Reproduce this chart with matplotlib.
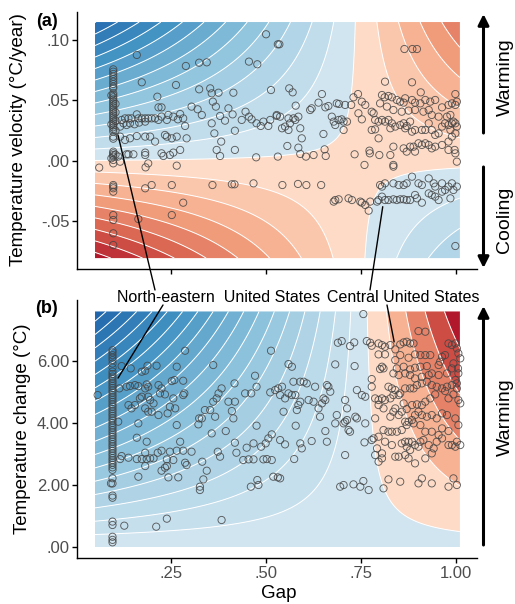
import numpy as np
import matplotlib.pyplot as plt
from matplotlib.colors import LinearSegmentedColormap
from matplotlib.patches import ConnectionPatch, FancyArrowPatch

plt.rcParams['font.family'] = ['Liberation Sans', 'DejaVu Sans']

W, H = 515, 604

# fitted surfaces: z = d * (gap - x0) * (y - y0) + c, one band per unit of z
# (d may differ on either side of x0)
vel_surface = dict(d_left=151.5, d_right=151.5, x0=0.745, y0=-0.0015, c=0.18)
chg_surface = dict(d_left=3.31, d_right=2.62, x0=0.752, y0=0.09, c=-0.275)
vel_extent = (0.05, 1.01, -0.0805, 0.1146)
chg_extent = (0.05, 1.01, 0.0, 7.6)

# panel (a) points: the north-eastern column at gap ~0.1, then the rest
ne_gap_a = 0.098
ne_rate = [0.0755, 0.0736, 0.0717, 0.0695, 0.0675, 0.0653, 0.0634, 0.0612, 0.0598,
           0.0557, 0.0540, 0.0524, 0.0507, 0.0491, 0.0474, 0.0458, 0.0441, 0.0425,
           0.0408, 0.0392, 0.0375, 0.0359, 0.0342, 0.0326, 0.0309, 0.0292, 0.0276,
           0.0259, 0.0240, 0.0199, 0.0182, 0.0075, 0.0061, 0.0047, 0.0034, 0.0006,
           -0.0022, -0.0201, -0.0214, -0.0228, -0.0256, -0.0449, -0.0490, -0.0600,
           -0.0697]
vel_points = [
    (0.104, 0.047), (0.104, 0.040), (0.104, 0.033), (0.104, 0.025), (0.104, 0.005),
    (0.093, 0.054), (0.093, 0.030), (0.093, 0.002),
    (0.160, 0.0874), (0.289, 0.0783), (0.324, 0.0810), (0.344, 0.0813), (0.455, 0.0819),
    (0.477, 0.0797), (0.500, 0.1045), (0.531, 0.0962), (0.173, 0.0648), (0.263, 0.0626),
    (0.214, 0.0529), (0.324, 0.0590), (0.353, 0.0598), (0.357, 0.0557), (0.375, 0.0562),
    (0.414, 0.0562), (0.513, 0.0584), (0.360, 0.0488), (0.368, 0.0447), (0.401, 0.0433),
    (0.412, 0.0383), (0.304, 0.0447), (0.320, 0.0425), (0.331, 0.0378), (0.379, 0.0370),
    (0.392, 0.0331), (0.446, 0.0405), (0.455, 0.0364), (0.436, 0.0337), (0.462, 0.0342),
    (0.475, 0.0309), (0.486, 0.0287), (0.493, 0.0323), (0.506, 0.0287), (0.511, 0.0337),
    (0.528, 0.0370), (0.357, 0.0309), (0.364, 0.0226), (0.418, 0.0248), (0.382, 0.0158),
    (0.370, 0.0089), (0.379, 0.0039), (0.418, 0.0089), (0.474, 0.0028), (0.531, 0.0034),
    (0.282, 0.0350), (0.287, 0.0287), (0.274, 0.0386), (0.268, 0.0342), (0.256, 0.0364),
    (0.243, 0.0378), (0.239, 0.0337), (0.225, 0.0364), (0.217, 0.0441), (0.225, 0.0441),
    (0.208, 0.0350), (0.199, 0.0350), (0.190, 0.0350), (0.182, 0.0350), (0.173, 0.0350),
    (0.164, 0.0350), (0.160, 0.0383), (0.146, 0.0350), (0.138, 0.0350), (0.129, 0.0350),
    (0.120, 0.0337), (0.116, 0.0282), (0.125, 0.0309), (0.133, 0.0295), (0.142, 0.0309),
    (0.154, 0.0301), (0.166, 0.0315), (0.182, 0.0323), (0.217, 0.0337), (0.265, 0.0199),
    (0.291, 0.0185), (0.252, 0.0185), (0.239, 0.0199), (0.234, 0.0213), (0.208, 0.0158),
    (0.195, 0.0199), (0.182, 0.0199), (0.160, 0.0204), (0.142, 0.0185), (0.129, 0.0171),
    (0.116, 0.0199), (0.274, 0.0089), (0.256, 0.0067), (0.247, 0.0047), (0.225, 0.0061),
    (0.230, 0.0039), (0.182, 0.0047), (0.182, 0.0067), (0.151, 0.0053), (0.138, 0.0053),
    (0.133, 0.0053), (0.111, 0.0034), (0.116, -0.0008), (0.190, -0.0022), (0.183, -0.0055),
    (0.265, -0.0041), (0.061, -0.0057), (0.182, -0.0228), (0.199, -0.0201), (0.252, -0.0201),
    (0.359, -0.0201), (0.410, -0.0195), (0.417, -0.0195), (0.467, -0.0187), (0.282, -0.0347),
    (0.252, -0.0449), (0.164, -0.0482),
    (0.535, 0.0962), (0.864, 0.0923), (0.885, 0.0923), (0.897, 0.0923), (0.813, 0.0653),
    (0.884, 0.0648), (0.907, 0.0565), (0.998, 0.0551), (0.561, 0.0598), (0.570, 0.0565),
    (0.647, 0.0551), (0.742, 0.0551), (0.730, 0.0524), (0.752, 0.0488), (0.761, 0.0461),
    (0.724, 0.0461), (0.708, 0.0461), (0.692, 0.0469), (0.686, 0.0474), (0.664, 0.0452),
    (0.656, 0.0441), (0.638, 0.0480), (0.620, 0.0433), (0.616, 0.0419), (0.578, 0.0455),
    (0.528, 0.0378), (0.537, 0.0364), (0.559, 0.0350), (0.572, 0.0350), (0.585, 0.0364),
    (0.577, 0.0337), (0.590, 0.0268), (0.542, 0.0268), (0.550, 0.0282), (0.559, 0.0254),
    (0.563, 0.0309), (0.594, 0.0185), (0.651, 0.0221), (0.673, 0.0364), (0.678, 0.0323),
    (0.682, 0.0295), (0.691, 0.0337), (0.699, 0.0342), (0.704, 0.0323), (0.704, 0.0254),
    (0.713, 0.0323), (0.743, 0.0392), (0.752, 0.0342), (0.778, 0.0405), (0.783, 0.0392),
    (0.787, 0.0337), (0.778, 0.0254), (0.787, 0.0259), (0.796, 0.0323), (0.805, 0.0337),
    (0.813, 0.0323), (0.822, 0.0337), (0.831, 0.0309), (0.827, 0.0268), (0.840, 0.0282),
    (0.853, 0.0295), (0.862, 0.0309), (0.866, 0.0268), (0.870, 0.0287), (0.879, 0.0323),
    (0.884, 0.0240), (0.892, 0.0254), (0.910, 0.0254), (0.919, 0.0254), (0.928, 0.0309),
    (0.936, 0.0254), (0.945, 0.0213), (0.954, 0.0226), (0.963, 0.0282), (0.971, 0.0309),
    (0.980, 0.0295), (0.989, 0.0309), (0.993, 0.0323), (0.998, 0.0309), (1.002, 0.0282),
    (0.985, 0.0254), (0.998, 0.0226), (0.989, 0.0199), (0.980, 0.0158), (0.996, 0.0089),
    (0.998, 0.0061), (1.002, -0.0008), (0.805, 0.0543), (0.812, 0.0524), (0.822, 0.0535),
    (0.831, 0.0524), (0.844, 0.0502), (0.853, 0.0488), (0.862, 0.0480), (0.866, 0.0516),
    (0.884, 0.0502), (0.892, 0.0480), (0.906, 0.0474), (0.919, 0.0502), (0.932, 0.0488),
    (0.945, 0.0502), (0.963, 0.0441), (0.980, 0.0461), (0.989, 0.0474), (0.998, 0.0461),
    (1.002, 0.0488), (0.800, 0.0474), (0.818, 0.0447), (0.835, 0.0419), (0.857, 0.0405),
    (0.875, 0.0414), (0.892, 0.0419), (0.914, 0.0405), (0.928, 0.0419), (0.936, 0.0378),
    (0.954, 0.0364), (0.976, 0.0364), (0.985, 0.0378), (0.796, 0.0185), (0.835, 0.0116),
    (0.862, 0.0102), (0.870, 0.0075), (0.879, 0.0116), (0.888, 0.0116), (0.892, 0.0075),
    (0.901, 0.0144), (0.910, 0.0130), (0.919, 0.0144), (0.928, 0.0130), (0.936, 0.0102),
    (0.945, 0.0116), (0.963, 0.0130), (0.980, 0.0089), (0.556, 0.0122), (0.585, 0.0108),
    (0.590, 0.0056), (0.605, 0.0034), (0.625, 0.0047), (0.657, 0.0039), (0.654, 0.0094),
    (0.733, 0.0053), (0.772, 0.0083), (0.773, 0.0061), (0.798, 0.0047), (0.827, 0.0047),
    (0.759, -0.0035), (0.835, -0.0035), (0.835, -0.0049), (0.543, -0.0201), (0.584, -0.0192),
    (0.606, -0.0201), (0.645, -0.0201), (0.800, -0.0201), (0.805, -0.0214), (0.813, -0.0187),
    (0.835, -0.0187), (0.849, -0.0201), (0.862, -0.0201), (0.870, -0.0187), (0.884, -0.0132),
    (0.901, -0.0187), (0.910, -0.0201), (0.928, -0.0146), (0.941, -0.0187), (0.945, -0.0214),
    (0.963, -0.0187), (0.971, -0.0242), (0.980, -0.0214), (0.989, -0.0187), (0.993, -0.0242),
    (1.002, -0.0214), (0.805, -0.0297), (0.792, -0.0338), (0.796, -0.0325), (0.813, -0.0325),
    (0.822, -0.0325), (0.835, -0.0319), (0.844, -0.0325), (0.853, -0.0319), (0.862, -0.0319),
    (0.870, -0.0325), (0.879, -0.0325), (0.892, -0.0283), (0.897, -0.0311), (0.910, -0.0347),
    (0.928, -0.0270), (0.936, -0.0283), (0.945, -0.0297), (0.954, -0.0325), (0.963, -0.0256),
    (0.985, -0.0311), (0.678, -0.0338), (0.682, -0.0325), (0.691, -0.0319), (0.717, -0.0311),
    (0.726, -0.0325), (0.752, -0.0347), (0.761, -0.0366), (0.770, -0.0413), (0.774, -0.0338),
    (0.748, -0.0338), (0.998, -0.0705),
]

# panel (b) points
ne_gap_b = 0.096
ne_change = [6.35, 6.28, 6.19, 6.11, 6.03, 5.92, 5.79, 5.66, 5.58, 5.50, 5.43, 5.35,
             5.28, 5.20, 5.13, 5.05, 4.98, 4.90, 4.83, 4.75, 4.68, 4.60, 4.53, 4.45,
             4.38, 4.30, 4.23, 4.15, 4.08, 4.00, 3.92, 3.85, 3.77, 3.70, 3.62, 3.55,
             3.47, 3.40, 3.32, 3.25, 3.17, 3.10, 3.02, 2.95, 2.87, 2.80, 2.72, 2.65,
             2.57, 2.49, 2.22, 2.05, 1.66, 1.59, 0.82, 0.71, 0.33, 0.23, 0.15]
chg_points = [
    (0.287, 6.333), (0.513, 6.333), (0.120, 5.838), (0.144, 5.763), (0.188, 5.849),
    (0.212, 5.849), (0.265, 5.817), (0.361, 5.871), (0.173, 5.656), (0.182, 5.688),
    (0.057, 4.903), (0.114, 5.118), (0.133, 5.172), (0.142, 5.193), (0.155, 5.225),
    (0.164, 5.193), (0.186, 5.247), (0.182, 5.118), (0.190, 5.172), (0.217, 5.225),
    (0.225, 5.118), (0.252, 5.354), (0.259, 5.387), (0.282, 5.365), (0.173, 4.849),
    (0.168, 4.795), (0.190, 4.849), (0.195, 4.742), (0.221, 4.957), (0.234, 4.924),
    (0.256, 4.795), (0.282, 4.903), (0.285, 4.957), (0.138, 4.580), (0.146, 4.473),
    (0.155, 4.580), (0.182, 4.473), (0.190, 4.365), (0.199, 4.365), (0.204, 4.634),
    (0.217, 4.258), (0.241, 4.312), (0.247, 4.526), (0.261, 4.473), (0.265, 3.935),
    (0.164, 3.989), (0.111, 4.043), (0.331, 4.150), (0.339, 4.419), (0.353, 4.419),
    (0.366, 4.204), (0.361, 4.688), (0.370, 4.795), (0.375, 4.957), (0.383, 5.118),
    (0.417, 5.279), (0.445, 4.957), (0.461, 4.957), (0.471, 5.526), (0.475, 5.172),
    (0.511, 4.989), (0.524, 5.064), (0.532, 5.118), (0.537, 4.903), (0.401, 4.688),
    (0.418, 4.688), (0.410, 4.387), (0.414, 4.150), (0.324, 4.150), (0.322, 3.957),
    (0.357, 3.666), (0.394, 3.741), (0.475, 3.914), (0.515, 3.634), (0.506, 3.505),
    (0.499, 3.344), (0.487, 3.236), (0.467, 3.344), (0.449, 3.204), (0.418, 3.365),
    (0.422, 3.042), (0.440, 2.806), (0.454, 2.828), (0.467, 2.828), (0.493, 2.828),
    (0.502, 2.838), (0.515, 2.806), (0.537, 3.451), (0.160, 3.526), (0.186, 3.397),
    (0.274, 3.397), (0.282, 3.107), (0.265, 3.107), (0.247, 3.075), (0.225, 3.107),
    (0.215, 3.042), (0.182, 3.042), (0.182, 2.612), (0.195, 2.860), (0.204, 2.860),
    (0.186, 2.838), (0.173, 2.838), (0.160, 2.838), (0.138, 2.881), (0.116, 2.838),
    (0.120, 2.935), (0.239, 2.828), (0.256, 2.806), (0.304, 3.075), (0.332, 2.752),
    (0.287, 2.720), (0.291, 2.645), (0.239, 2.612), (0.234, 2.559), (0.225, 2.462),
    (0.344, 2.462), (0.335, 2.182), (0.243, 2.247), (0.269, 2.247), (0.164, 2.268),
    (0.326, 1.946), (0.326, 1.838), (0.373, 3.075), (0.379, 2.914), (0.477, 2.161),
    (0.480, 2.000), (0.460, 1.946), (0.519, 2.268), (0.531, 2.247), (0.537, 2.215),
    (0.092, 2.053), (0.239, 0.914), (0.383, 0.871), (0.211, 0.656), (0.127, 0.688),
    (0.756, 7.516), (0.901, 6.967), (0.919, 6.946), (0.689, 6.591), (0.699, 6.645),
    (0.721, 6.483), (0.732, 6.602), (0.765, 6.645), (0.774, 6.591), (0.778, 6.494),
    (0.796, 6.569), (0.805, 6.516), (0.813, 6.462), (0.827, 6.516), (0.853, 6.537),
    (0.862, 6.602), (0.870, 6.623), (0.879, 6.569), (0.888, 6.569), (0.840, 6.376),
    (0.813, 6.215), (0.796, 6.215), (0.805, 5.817), (0.809, 5.763), (0.800, 5.742),
    (0.559, 5.903), (0.568, 5.817), (0.682, 5.892), (0.733, 5.838), (0.840, 6.032),
    (0.853, 6.193), (0.875, 6.107), (0.892, 6.215), (0.906, 6.193), (0.919, 6.193),
    (0.932, 6.193), (0.963, 6.139), (0.971, 6.193), (0.980, 6.569), (0.989, 6.516),
    (0.998, 6.569), (1.002, 6.408), (1.006, 6.247), (1.011, 6.086), (0.993, 5.925),
    (0.954, 5.871), (0.958, 5.978), (0.989, 5.763), (1.005, 5.763), (0.844, 5.763),
    (0.862, 5.817), (0.879, 5.731), (0.892, 5.785), (0.906, 5.817), (0.923, 5.838),
    (0.936, 5.602), (0.954, 5.548), (0.976, 5.602), (1.006, 5.602), (1.002, 5.279),
    (1.002, 5.118), (0.993, 4.924), (1.006, 4.742), (1.011, 4.634), (0.980, 4.795),
    (0.971, 5.032), (0.945, 4.924), (0.932, 4.795), (0.919, 4.688), (0.910, 4.580),
    (0.897, 4.602), (0.884, 4.580), (0.870, 4.451), (0.862, 4.634), (0.849, 4.903),
    (0.835, 4.903), (0.827, 4.795), (0.813, 4.742), (0.805, 4.795), (0.796, 4.742),
    (0.787, 4.795), (0.778, 5.419), (0.778, 5.172), (0.822, 5.172), (0.831, 5.118),
    (0.840, 5.064), (0.853, 4.957), (0.866, 5.118), (0.879, 5.118), (0.888, 5.118),
    (0.897, 5.225), (0.910, 5.279), (0.923, 5.333), (0.936, 5.225), (0.949, 5.172),
    (0.963, 5.118), (0.976, 5.172), (0.989, 5.225), (0.998, 5.387), (0.835, 5.602),
    (0.849, 5.548), (0.866, 5.602), (0.879, 5.548), (0.892, 5.440), (0.910, 5.494),
    (0.928, 5.548), (0.542, 5.172), (0.550, 4.795), (0.559, 4.957), (0.572, 5.333),
    (0.590, 5.333), (0.599, 5.333), (0.607, 5.279), (0.629, 5.172), (0.660, 5.225),
    (0.664, 5.172), (0.669, 5.010), (0.656, 4.742), (0.651, 4.795), (0.647, 4.634),
    (0.638, 4.473), (0.642, 4.204), (0.625, 4.688), (0.612, 4.742), (0.590, 4.688),
    (0.585, 4.580), (0.581, 4.419), (0.577, 4.903), (0.568, 4.903), (0.546, 4.365),
    (0.739, 5.064), (0.752, 4.903), (0.761, 4.849), (0.708, 4.742), (0.713, 4.473),
    (0.686, 4.258), (0.682, 3.989), (0.704, 3.989), (0.708, 4.043), (0.713, 4.097),
    (0.735, 4.204), (0.739, 4.150), (0.761, 3.989), (0.787, 4.150), (0.796, 4.580),
    (0.809, 4.473), (0.827, 4.204), (0.835, 4.365), (0.840, 4.473), (0.849, 4.258),
    (0.857, 4.365), (0.866, 4.043), (0.875, 4.043), (0.884, 4.097), (0.892, 4.258),
    (0.901, 4.365), (0.910, 4.258), (0.923, 4.204), (0.936, 4.258), (0.949, 4.150),
    (0.963, 4.312), (0.976, 4.258), (0.998, 4.150), (1.006, 3.935), (0.980, 3.741),
    (0.963, 3.828), (0.954, 3.613), (0.936, 3.720), (0.919, 3.720), (0.906, 3.935),
    (0.888, 3.989), (0.870, 3.935), (0.857, 3.774), (0.844, 3.720), (0.831, 3.720),
    (0.822, 3.720), (0.809, 3.774), (0.813, 3.397), (0.796, 3.559), (0.792, 3.182),
    (0.787, 2.967), (0.805, 3.021), (0.805, 2.860), (0.796, 2.752), (0.831, 3.290),
    (0.840, 2.914), (0.849, 2.914), (0.857, 3.344), (0.866, 3.397), (0.870, 3.236),
    (0.875, 3.397), (0.884, 3.397), (0.892, 3.290), (0.906, 3.397), (0.914, 3.451),
    (0.928, 3.290), (0.941, 3.182), (0.949, 3.397), (0.963, 3.505), (0.980, 3.290),
    (0.989, 3.290), (1.002, 3.397), (0.998, 3.236), (1.011, 3.290), (0.936, 3.021),
    (0.919, 2.860), (0.892, 2.699), (0.875, 2.860), (0.866, 2.967), (0.879, 3.129),
    (0.901, 3.236), (0.656, 3.741), (0.660, 3.397), (0.620, 3.419), (0.594, 3.182),
    (0.590, 3.344), (0.550, 3.311), (0.578, 3.914), (0.574, 2.838), (0.708, 2.967),
    (0.721, 3.720), (0.717, 3.774), (0.759, 3.376), (0.783, 3.505), (0.778, 3.451),
    (0.695, 1.946), (0.704, 2.000), (0.730, 2.021), (0.748, 1.946), (0.756, 2.129),
    (0.770, 1.838), (0.809, 1.892), (0.822, 2.182), (0.853, 2.107), (0.901, 2.053),
    (0.910, 2.215), (0.936, 2.053), (0.980, 1.946), (0.993, 2.215), (1.002, 2.000),
]

gap_ticks = [0.25, 0.50, 0.75, 1.00]
gap_labels = ['.25', '.50', '.75', '1.00']
vel_ticks = [-0.05, 0.0, 0.05, 0.10]
vel_labels = ['-.05', '.00', '.05', '.10']
chg_ticks = [0, 2, 4, 6]
chg_labels = ['.00', '2.00', '4.00', '6.00']

blues = LinearSegmentedColormap.from_list('b', ['#D1E5F0', '#92C5DE', '#4393C3', '#2166AC'])
reds = LinearSegmentedColormap.from_list('r', ['#FDDBC7', '#F4A582', '#D6604D', '#B2182B'])


def px(x, y):
    # pixel position (from top-left) to figure fraction
    return (x / W, 1 - y / H)


def draw_surface(ax, extent, d_left, d_right, x0, y0, c):
    gx = np.linspace(extent[0], extent[1], 400)
    gy = np.linspace(extent[2], extent[3], 400)
    X, Y = np.meshgrid(gx, gy)
    d = np.where(X < x0, d_left, d_right)
    Z = d * (X - x0) * (Y - y0) + c
    lv = np.arange(np.floor(Z.min()), np.ceil(Z.max()) + 1)
    n_neg = int(-lv[0])
    n_pos = int(lv[-1])
    cols = []
    for lo in lv[:-1]:
        if lo < 0:
            cols.append(blues((-lo - 1) / max(n_neg - 1, 1)))
        else:
            cols.append(reds(lo / max(n_pos - 1, 1)))
    ax.contourf(X, Y, Z, levels=lv, colors=cols, antialiased=True)
    ax.contour(X, Y, Z, levels=lv, colors='white', linewidths=0.7,
               linestyles='solid', negative_linestyles='solid')


def style_axis(ax):
    for s in ['top', 'right']:
        ax.spines[s].set_visible(False)
    for s in ['left', 'bottom']:
        ax.spines[s].set_linewidth(1.0)
    ax.tick_params(length=3.5, width=1.0, color='black', labelcolor='#4D4D4D',
                   labelsize=12, pad=2)
    ax.set_xlim(0.0026, 1.055)
    ax.set_xticks(gap_ticks)


def draw_points(ax, col_gap, col_vals, pts):
    p = np.array(pts)
    gx = np.concatenate([np.full(len(col_vals), col_gap), p[:, 0]])
    gy = np.concatenate([col_vals, p[:, 1]])
    ax.scatter(gx, gy, s=27, facecolors='none', edgecolors='#444444',
               linewidths=0.65, alpha=0.85, zorder=3)


fig = plt.figure(figsize=(W / 100, H / 100), dpi=100)
ax_a = fig.add_axes([77 / W, 1 - 269 / H, 400 / W, 257 / H])
ax_b = fig.add_axes([77 / W, 1 - 558 / H, 400 / W, 258 / H])

# (a) temperature velocity
draw_surface(ax_a, vel_extent, **vel_surface)
draw_points(ax_a, ne_gap_a, ne_rate, vel_points)
style_axis(ax_a)
ax_a.set_ylim(-0.0895, 0.1229)
ax_a.set_yticks(vel_ticks)
ax_a.set_yticklabels(vel_labels)
ax_a.set_xticklabels([])

# (b) temperature change
draw_surface(ax_b, chg_extent, **chg_surface)
draw_points(ax_b, ne_gap_b, ne_change, chg_points)
style_axis(ax_b)
ax_b.set_ylim(-0.355, 7.97)
ax_b.set_yticks(chg_ticks)
ax_b.set_yticklabels(chg_labels)
ax_b.set_xticklabels(gap_labels)

# titles, labels
fig.text(*px(19, 140), 'Temperature velocity (°C/year)', rotation=90,
         ha='center', va='center', fontsize=13.5)
fig.text(*px(23, 429), 'Temperature change (°C)', rotation=90,
         ha='center', va='center', fontsize=13.5)
fig.text(*px(279, 593), 'Gap', ha='center', va='center', fontsize=13.5)
fig.text(*px(47, 21), '(a)', ha='center', va='center', fontsize=13, fontweight='bold')
fig.text(*px(47, 308), '(b)', ha='center', va='center', fontsize=13, fontweight='bold')

# region labels and leader lines
fig.text(*px(219, 297), 'North-eastern  United States', ha='center', va='center',
         fontsize=11.5)
fig.text(*px(403, 297), 'Central United States', ha='center', va='center',
         fontsize=11.5)
leaders = [
    (ax_a, (0.1105, 0.0212), (155, 290)),
    (ax_b, (0.1105, 5.45), (163, 305)),
    (ax_a, (0.807, -0.038), (370, 290)),
    (ax_b, (0.837, 6.62), (387, 305)),
]
for ax, xy, end in leaders:
    fig.add_artist(ConnectionPatch(xyA=xy, coordsA=ax.transData, xyB=px(*end),
                                   coordsB=fig.transFigure, color='black', lw=1.0))

# direction arrows on the right
arrows = [((483.5, 133), (483.5, 14)), ((483.5, 167), (483.5, 268)),
          ((483.5, 545), (483.5, 306))]
for a, b in arrows:
    fig.add_artist(FancyArrowPatch(px(*a), px(*b), transform=fig.transFigure,
                                   arrowstyle='-|>', mutation_scale=16, lw=2.2,
                                   color='black', shrinkA=0, shrinkB=0))
fig.text(*px(505, 77), 'Warming', rotation=90, ha='center', va='center', fontsize=14)
fig.text(*px(505, 220), 'Cooling', rotation=90, ha='center', va='center', fontsize=14)
fig.text(*px(505, 417), 'Warming', rotation=90, ha='center', va='center', fontsize=14)

fig.savefig('out.png', dpi=100)
